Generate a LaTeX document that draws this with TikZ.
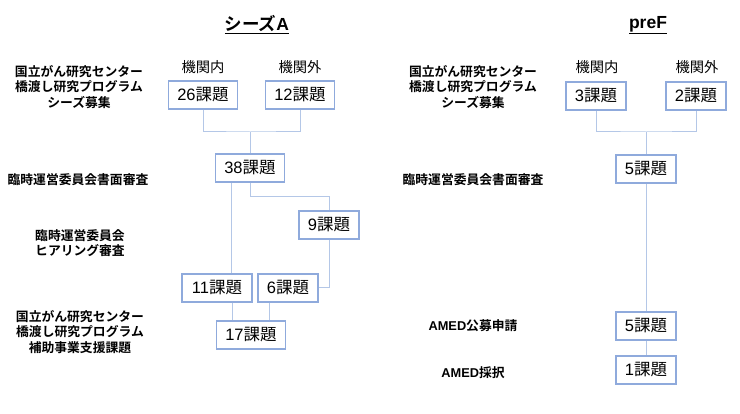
\documentclass[tikz,border=0pt]{standalone}
\usepackage{fontspec}
\setmainfont{Noto Sans CJK JP}[BoldFont={Noto Sans CJK JP Bold}]
\newfontfamily\lat{Liberation Sans}
\definecolor{boxblue}{HTML}{8FAADC}
\definecolor{lineblue}{HTML}{B4C7E7}
\tikzset{
  kbox/.style={draw=boxblue, line width=1.1pt, fill=white, minimum height=28pt, inner sep=2pt, font=\fontsize{16.5}{18}\selectfont},
  conn/.style={draw=lineblue, line width=1pt},
  lbl/.style={align=center, font=\bfseries\fontsize{12.8}{15.5}\selectfont},
  hdr/.style={font=\fontsize{14.3}{16}\selectfont},
  ttl/.style={font=\bfseries\fontsize{17.5}{20}\selectfont}
}
\begin{document}
\begin{tikzpicture}[x=1pt,y=-1pt]
\useasboundingbox (0,0) rectangle (740,414);
% titles
\node[ttl] (tA) at (257,25) {\underline{シーズ{\lat A}}};
\node[ttl] (tF) at (648,25) {\underline{{\lat preF}}};
% left labels
\node[lbl] (l1) at (79,87) {国立がん研究センター\\橋渡し研究プログラム\\シーズ募集};
\node[lbl] (l2) at (78,180) {臨時運営委員会書面審査};
\node[lbl] (l3) at (80,243) {臨時運営委員会\\ヒアリング審査};
\node[lbl] (l4) at (80,332) {国立がん研究センター\\橋渡し研究プログラム\\補助事業支援課題};
% right labels
\node[lbl] (r1) at (473,87) {国立がん研究センター\\橋渡し研究プログラム\\シーズ募集};
\node[lbl] (r2) at (473,180) {臨時運営委員会書面審査};
\node[lbl] (r3) at (473,326) {{\lat AMED}公募申請};
\node[lbl] (r4) at (473,373) {{\lat AMED}採択};
% headers
\node[hdr] (h1) at (203,67) {機関内};
\node[hdr] (h2) at (300,67) {機関外};
\node[hdr] (h3) at (597,67) {機関内};
\node[hdr] (h4) at (697,67) {機関外};
% left boxes
\node[kbox, minimum width=69pt] (n26) at (203,95) {{\lat 26}課題};
\node[kbox, minimum width=69pt] (n12) at (300,95) {{\lat 12}課題};
\node[kbox, minimum width=69pt] (n38) at (250,168) {{\lat 38}課題};
\node[kbox, minimum width=60pt] (n9) at (329,225) {{\lat 9}課題};
\node[kbox, minimum width=70pt] (n11) at (217,288) {{\lat 11}課題};
\node[kbox, minimum width=60pt] (n6) at (288,288) {{\lat 6}課題};
\node[kbox, minimum width=69pt] (n17) at (251,335) {{\lat 17}課題};
% right boxes
\node[kbox, minimum width=60pt] (n3) at (596,96) {{\lat 3}課題};
\node[kbox, minimum width=60pt] (n2) at (696,96) {{\lat 2}課題};
\node[kbox, minimum width=60pt] (n5a) at (646,169) {{\lat 5}課題};
\node[kbox, minimum width=60pt] (n5b) at (646,326) {{\lat 5}課題};
\node[kbox, minimum width=60pt] (n1) at (646,370) {{\lat 1}課題};
% left connectors
\coordinate (jA) at (250,132);
\coordinate (jB) at (329,197);
\draw[conn] (n26.south) |- (jA) -| (n12.south);
\draw[conn] (jA) -- (n38.north);
\draw[conn] ([xshift=-19pt]n38.south) -- ([xshift=14pt]n11.north);
\draw[conn] (n38.south) |- (jB) -- (n9.north);
\draw[conn] (n9.south) |- (n6.east);
\draw[conn] ([xshift=15pt]n11.south) -- ([xshift=15pt]n11.south |- n17.north);
\draw[conn] ([xshift=-19pt]n6.south) -- ([xshift=-19pt]n6.south |- n17.north);
% right connectors
\coordinate (jC) at (646,132);
\draw[conn] (n3.south) |- (jC) -| (n2.south);
\draw[conn] (jC) -- (n5a.north);
\draw[conn] (n5a.south) -- (n5b.north);
\draw[conn] (n5b.south) -- (n1.north);
\end{tikzpicture}
\end{document}
